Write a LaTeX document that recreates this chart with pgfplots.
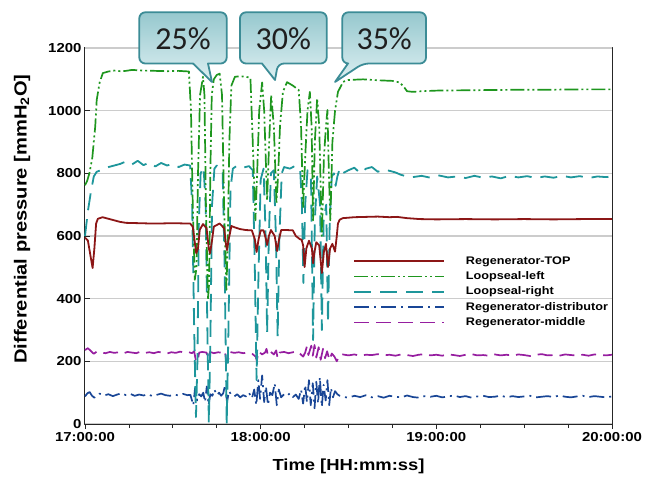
\documentclass[border=0pt]{standalone}
\usepackage{pgfplots}
\pgfplotsset{compat=1.18}
\usepackage{fontspec}
\setmainfont{Liberation Sans}[FakeStretch=1.15]
\newfontfamily\callfont{Carlito}
\definecolor{cRed}{RGB}{140,22,22}
\definecolor{cGreen}{RGB}{30,150,30}
\definecolor{cTeal}{RGB}{30,150,155}
\definecolor{cBlue}{RGB}{25,70,150}
\definecolor{cPurple}{RGB}{150,30,160}
\definecolor{cBorder}{RGB}{60,140,150}
\definecolor{cTop}{RGB}{150,200,206}
\definecolor{cBot}{RGB}{222,240,242}
\tikzset{
  sRed/.style={cRed, line width=1.8pt, solid},
  sGreen/.style={cGreen, line width=1.7pt, dash pattern=on 14pt off 3pt on 2pt off 3pt on 2pt off 3pt},
  sTeal/.style={cTeal, line width=1.8pt, dash pattern=on 17pt off 9pt},
  sBlue/.style={cBlue, line width=1.7pt, dash pattern=on 15pt off 5pt on 2pt off 5pt},
  sPurple/.style={cPurple, line width=1.7pt, dash pattern=on 15pt off 7pt},
}
\begin{document}
\begin{tikzpicture}
\begin{axis}[
  scale only axis, width=527pt, height=376pt,
  xmin=0, xmax=180, ymin=0, ymax=1200,
  xtick={0,60,120,180},
  xticklabels={17:00:00,18:00:00,19:00:00,20:00:00},
  minor x tick num=3,
  ytick={0,200,...,1200},
  xtick pos=bottom, ytick pos=left,
  xtick align=outside, ytick align=inside,
  major tick length=5pt, minor tick length=4pt,
  ymajorgrids, grid style={line width=1.6pt, color=black!20},
  axis line style={line width=1pt, black!85},
  tick style={line width=0.8pt, black!85},
  /pgf/number format/assume math mode=true,
  /pgf/number format/1000 sep={},
  tick label style={font=\bfseries\fontsize{13}{15}\selectfont},
  clip=false,
  line join=round,
  legend image code/.code={\draw[#1] (0pt,0pt) -- (90pt,0pt);},
  legend cell align=left,
  legend style={at={(rel axis cs:0.5085,0.448)}, anchor=north west, draw=none, fill=none,
    inner sep=0pt, row sep=4.3pt,
    nodes={inner sep=0pt, text height=8.5pt, text depth=2.5pt},
    /tikz/every odd column/.append style={column sep=21pt},
    font=\bfseries\fontsize{11}{13}\selectfont},
]
\addlegendimage{sRed}
\addlegendimage{sGreen}
\addlegendimage{sTeal}
\addlegendimage{sBlue}
\addlegendimage{sPurple}
\legend{Regenerator-TOP,Loopseal-left,Loopseal-right,Regenerator-distributor,Regenerator-middle}

% Regenerator-middle
\addplot[sPurple, forget plot] coordinates {
(0,236)(1,242)(2,233)(3,224)(4,231)(5.5,228)(7,226)(8.5,230)(10,227)(11.5,229)(13,225)(14.5,230)(16,228)(17.5,226)(19,231)(20.5,227)(22,229)(23.5,226)(25,230)(26.5,228)(28,225)(29.5,229)(31,227)(32.5,231)(34,228)(35.5,229)(36.5,226)(37.3,232)(37.8,205)(38.4,198)(39,228)(40,230)(41.5,228)(42.2,208)(42.7,230)(44,226)(45.5,229)(47,227)(47.8,232)(48.3,195)(48.8,200)(49.4,230)(51,227)(52.5,229)(54,226)(55.5,228)(57,225)(58.3,215)(58.7,200)(59.2,232)(60.5,222)(61.5,228)(62,240)(62.5,218)(63.5,230)(64.5,222)(65.3,235)(65.8,210)(66.5,228)(68,230)(69.5,226)(71,229)(72.5,232)(73.5,224)(74.5,215)(75.2,228)(75.8,248)(76.3,220)(77.3,250)(77.8,218)(78.4,252)(79,212)(79.8,245)(80.5,205)(81.3,240)(82,210)(82.7,232)(83.5,204)(84.3,225)(85.2,215)(86,200)(86.8,218)(88,222)(90,219)(92,222)(94,218)(96,221)(98,220)(100,223)(102,219)(104,221)(106,218)(108,222)(110,220)(112,217)(114,221)(116,223)(118,219)(120,221)(122,218)(124,222)(126,220)(128,217)(130,221)(132,223)(134,219)(136,220)(138,218)(140,222)(142,219)(144,221)(146,218)(148,222)(150,220)(152,217)(154,221)(156,223)(158,219)(160,220)(162,218)(164,222)(166,220)(168,219)(170,221)(172,218)(174,222)(176,220)(178,219)(180,221)
};
% Regenerator-distributor
\addplot[sBlue, forget plot] coordinates {
(0,88)(0.8,98)(1.6,102)(2.4,90)(3.2,84)(4,92)(5,97)(6.5,91)(8,95)(9.5,89)(11,94)(12.5,98)(14,92)(15.5,96)(17,90)(18.5,94)(20,91)(21.5,95)(23,89)(24.5,93)(26,97)(27.5,92)(29,90)(30.5,94)(32,91)(33.5,96)(35,92)(36,93)(37,60)(37.6,115)(38.3,75)(39,95)(39.7,88)(40.4,100)(41,70)(41.6,120)(42.2,60)(42.8,95)(43.5,90)(44.2,110)(45,92)(45.8,100)(46.5,90)(47.2,98)(47.9,125)(48.5,70)(49.2,105)(50,92)(51,88)(52,95)(53,85)(54,92)(55,88)(56,100)(57,82)(57.8,110)(58.5,60)(59.2,140)(59.8,80)(60.5,155)(61.2,70)(61.8,120)(62.5,60)(63.2,100)(64,92)(64.8,130)(65.5,60)(66.2,110)(67,85)(68,95)(69,90)(70,98)(71,86)(72,94)(73,80)(73.8,110)(74.5,65)(75.2,125)(75.8,70)(76.5,140)(77.1,60)(77.8,130)(78.4,50)(79,135)(79.6,65)(80.2,150)(80.9,55)(81.5,125)(82.2,75)(82.8,140)(83.4,60)(84,115)(84.7,85)(85.4,105)(86.2,95)(87,90)(88,87)(90,84)(92,90)(94,86)(96,92)(98,85)(100,89)(102,84)(104,90)(106,87)(108,85)(110,91)(112,86)(114,84)(116,89)(118,87)(120,90)(122,85)(124,88)(126,91)(128,86)(130,89)(132,84)(134,88)(136,90)(138,86)(140,87)(142,91)(144,85)(146,89)(148,86)(150,88)(152,90)(154,85)(156,87)(158,89)(160,86)(162,91)(164,87)(166,85)(168,88)(170,90)(172,86)(174,89)(176,87)(178,85)(180,88)
};
% Loopseal-right
\addplot[sTeal, forget plot] coordinates {
(0,600)(1,680)(2,740)(3,790)(4,805)(6,812)(8,820)(10,825)(12,830)(14,838)(16,828)(18,840)(20,826)(22,835)(24,822)(26,833)(28,825)(30,830)(32,820)(34,828)(35.9,825)(36.6,700)(37.3,300)(37.9,22)(38.4,200)(38.9,650)(39.5,800)(40.5,820)(41.2,700)(41.8,300)(42.3,3)(42.8,250)(43.4,700)(44.2,815)(45,825)(46,818)(47,810)(47.7,500)(48.4,0)(49,300)(49.7,750)(50.5,815)(52,825)(54,818)(56,823)(57.3,810)(58,500)(58.6,140)(59.2,450)(60,780)(61,815)(61.7,600)(62.2,290)(62.8,600)(63.5,800)(64.5,810)(65.2,600)(65.8,278)(66.4,600)(67.2,800)(68,820)(70,815)(72,825)(73.5,810)(74.1,700)(74.6,450)(75.2,700)(76,810)(77.2,780)(77.9,268)(78.5,650)(79.3,790)(80.3,700)(80.9,300)(81.5,650)(82.4,700)(83,322)(83.6,650)(84.3,790)(85,800)(85.6,760)(86.2,790)(87,815)(88,800)(90,810)(92,818)(94,800)(96,815)(98,820)(100,805)(102,812)(104,808)(106,803)(108,795)(110,790)(112,788)(115,792)(118,786)(121,793)(124,787)(127,790)(130,785)(133,792)(136,786)(139,790)(142,784)(145,792)(148,787)(151,791)(154,785)(157,790)(160,786)(163,792)(166,787)(169,791)(172,785)(175,790)(178,788)(180,790)
};
% Loopseal-left
\addplot[sGreen, forget plot] coordinates {
(0,762)(0.7,775)(1.5,800)(2.5,850)(3.5,950)(4,1034)(5,1090)(6.1,1120)(8,1125)(10,1128)(12,1126)(14,1127)(16,1130)(20,1128)(24,1127)(28,1126)(32,1127)(35.5,1125)(36.2,1000)(36.8,700)(37.5,460)(38.1,500)(38.6,800)(39.3,1050)(40.3,1108)(40.8,1050)(41.3,700)(42,396)(42.4,450)(42.8,800)(43.3,1050)(44,1100)(45,1114)(46,1118)(46.8,1050)(47.5,700)(48.3,428)(48.8,600)(49.3,900)(50,1080)(51.2,1108)(53,1110)(55,1108)(56.5,1105)(57.3,900)(58.2,650)(58.8,800)(59.5,1000)(60.5,1090)(61.2,1000)(62.2,715)(62.9,900)(63.6,1050)(64.5,950)(65.4,705)(66,800)(66.6,950)(67.6,1060)(69,1091)(71,1080)(73,1066)(73.8,950)(74.5,692)(75.2,850)(76,1000)(76.8,1060)(77.4,950)(77.9,650)(78.5,900)(79.3,1040)(80,950)(80.9,600)(81.6,850)(82.3,950)(82.8,1002)(83.3,800)(83.8,650)(84.5,900)(85.4,1000)(86.4,1060)(87.5,1080)(88.1,1092)(90,1098)(95,1100)(100,1097)(105,1095)(107.5,1090)(109,1075)(110,1062)(112,1060)(115,1062)(120,1064)(130,1065)(140,1066)(150,1067)(160,1067)(170,1068)(180,1068)
};
% Regenerator-TOP
\addplot[sRed, forget plot] coordinates {
(0,595)(1,585)(2,530)(2.6,498)(3.2,560)(3.8,640)(4.4,655)(6,660)(8,655)(10,650)(12,645)(14,642)(18,641)(22,640)(26,640)(30,641)(34,640)(35.9,640)(36.8,630)(37.5,580)(38,545)(38.6,560)(39.2,620)(40.3,638)(41.5,625)(42.3,560)(42.7,545)(43.3,580)(44,630)(46,640)(47.5,625)(48.2,570)(48.5,555)(49.1,590)(50,632)(51,628)(53,622)(55,619)(57,618)(58,590)(58.6,549)(59.3,590)(60,618)(61,618)(61.8,590)(62.2,571)(62.8,600)(63.5,619)(64.8,600)(65.6,552)(66.3,590)(67,619)(69,619)(71,618)(72,600)(73.4,590)(74,588)(74.5,570)(75,501)(75.6,560)(76.5,585)(77.5,560)(77.9,513)(78.4,550)(79,580)(80,570)(80.9,482)(81.6,550)(82.3,575)(83,501)(83.7,560)(84.5,575)(85.4,550)(86,600)(86.4,640)(87,652)(88.1,657)(92,660)(96,661)(100,662)(104,660)(106.6,661)(110,657)(114.4,654)(120,653)(130,654)(140,653)(150,654)(160,653)(170,654)(180,654)
};
\draw[black!20, line width=1.6pt] (rel axis cs:0,1) -- (rel axis cs:1,1);
\node[rotate=90, font=\bfseries\fontsize{17.5}{19}\selectfont] at (rel axis cs:-0.1195,0.545) {Differential pressure [mmH\textsubscript{2}O]};
\node[font=\bfseries\fontsize{16}{18}\selectfont] at (rel axis cs:0.5,-0.112) {Time [HH:mm:ss]};
\end{axis}
\begin{scope}[shift={(current axis.south west)}]
\begin{scope}[shift={(-85pt,424pt)}, x=1pt, y=-1pt]
  \tikzset{callout/.style={draw=cBorder, line width=1.8pt, top color=cTop, bottom color=cBot, line join=round}}
  % 25%
  \path[callout, rounded corners=6pt] (139.3,12.3) -- (226.7,12.3) -- (226.7,63.5) [sharp corners] -- (208,63.5) -- (212,82) -- (193,63.5) [rounded corners=6pt] -- (139.3,63.5) -- cycle;
  \node[font=\callfont\fontsize{32}{34}\selectfont, text=black!88] at (183,39) {25\%};
  % 30%
  \path[callout, rounded corners=6pt] (240,12.3) -- (326.7,12.3) -- (326.7,63.5) -- (278,63.5) [sharp corners] -- (275,80) -- (262,63.5) [rounded corners=6pt] -- (240,63.5) -- cycle;
  \node[font=\callfont\fontsize{32}{34}\selectfont, text=black!88] at (283.3,39) {30\%};
  % 35%
  \path[callout, rounded corners=6pt] (342.3,12.3) -- (426,12.3) -- (426,63.5) -- (363,63.5) [sharp corners] -- (335,82) -- (348,63.5) [rounded corners=6pt] -- (342.3,63.5) -- cycle;
  \node[font=\callfont\fontsize{32}{34}\selectfont, text=black!88] at (384.2,39) {35\%};
\end{scope}
\end{scope}
\pgfresetboundingbox
\path ([shift={(-85pt,-58pt)}]current axis.south west) rectangle ([shift={(35pt,48pt)}]current axis.north east);
\end{tikzpicture}
\end{document}
